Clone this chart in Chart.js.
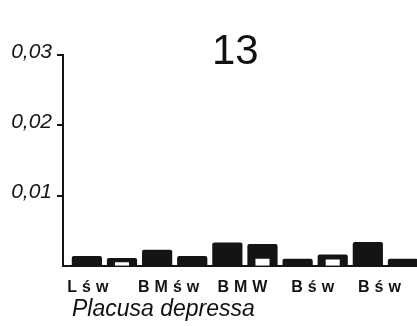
<!DOCTYPE html>
<html>
<head>
<meta charset="utf-8">
<script src="https://cdn.jsdelivr.net/npm/chart.js@4.4.1/dist/chart.umd.min.js"></script>
<style>
  body { margin: 0; background: #fff; overflow: hidden; }
  #wrap { position: relative; width: 417px; height: 326px; }
  #num { position: absolute; left: 212px; top: 29px; font: 42px/42px "Liberation Sans", Arial, sans-serif; color: #111; }
  #species { position: absolute; left: 72px; top: 297px; font: italic 23px/23px "Liberation Sans", Arial, sans-serif; color: #111; white-space: nowrap; }
</style>
</head>
<body>
<div id="wrap">
  <canvas id="chart" width="417" height="326"></canvas>
  <div id="num">13</div>
  <div id="species">Placusa depressa</div>
</div>
<script>
// pair labels under the bars
const categories = ["Lśw", "BMśw", "BMW", "Bśw", "Bśw"];
// bar heights, left to right (two bars per label)
const barValues = [0.0014, 0.0011, 0.0023, 0.0014, 0.0033, 0.0031, 0.0010, 0.0016, 0.0034, 0.0010];
// white inner parts of some bars (null = none)
const innerValues = [null, 0.0005, null, null, null, 0.0010, null, 0.0009, null, null];
const yTicks = [0.01, 0.02, 0.03];

// where each pair label sits on the bar axis
const labelAt = [0.1, 2.4, 4.5, 6.5, 8.4];

const black = "#141414";

function toPoints(values) {
    const pts = [];
    values.forEach((v, i) => {
        if (v !== null) pts.push({ x: i, y: v });
    });
    return pts;
}

// spaced-out letters for the bottom labels only
const spacing = {
    id: "spacing",
    beforeDraw(chart) { chart.ctx.letterSpacing = "5px"; },
    beforeDatasetsDraw(chart) { chart.ctx.letterSpacing = "0px"; }
};

const ctx = document.getElementById("chart").getContext("2d");
new Chart(ctx, {
    type: "bar",
    data: {
        datasets: [
            {
                data: toPoints(innerValues),
                backgroundColor: "#fff",
                grouped: false,
                barPercentage: 0.4,
                categoryPercentage: 1,
                order: 0
            },
            {
                data: toPoints(barValues),
                backgroundColor: black,
                borderRadius: 2,
                grouped: false,
                barPercentage: 0.86,
                categoryPercentage: 1,
                order: 1
            }
        ]
    },
    options: {
        responsive: false,
        animation: false,
        layout: { padding: { top: 55, right: 0, bottom: 17, left: 0 } },
        plugins: {
            legend: { display: false },
            tooltip: { enabled: false }
        },
        scales: {
            x: {
                type: "linear",
                offset: false,
                min: -0.68,
                max: 9.4,
                grid: { display: false, drawTicks: false },
                border: { display: true, color: black, width: 2 },
                afterBuildTicks: (scale) => {
                    scale.ticks = labelAt.map(v => ({ value: v }));
                },
                ticks: {
                    autoSkip: false,
                    maxRotation: 0,
                    padding: 12,
                    color: black,
                    font: { family: "'Liberation Sans', Arial, sans-serif", size: 16, weight: "bold" },
                    callback: (value) => categories[labelAt.indexOf(value)]
                }
            },
            y: {
                min: 0,
                max: 0.03,
                afterFit: (scale) => { scale.width = 63; },
                afterBuildTicks: (scale) => {
                    scale.ticks = yTicks.map(v => ({ value: v }));
                },
                grid: {
                    drawOnChartArea: false,
                    tickLength: 6,
                    lineWidth: 2,
                    color: black
                },
                border: { display: true, color: black, width: 2, z: 1 },
                ticks: {
                    z: 1,
                    padding: 5,
                    labelOffset: -3,
                    color: black,
                    font: { family: "'Liberation Sans', Arial, sans-serif", size: 21, style: "italic" },
                    callback: (value) => value.toFixed(2).replace(".", ",")
                }
            }
        }
    },
    plugins: [spacing]
});
</script>
</body>
</html>
